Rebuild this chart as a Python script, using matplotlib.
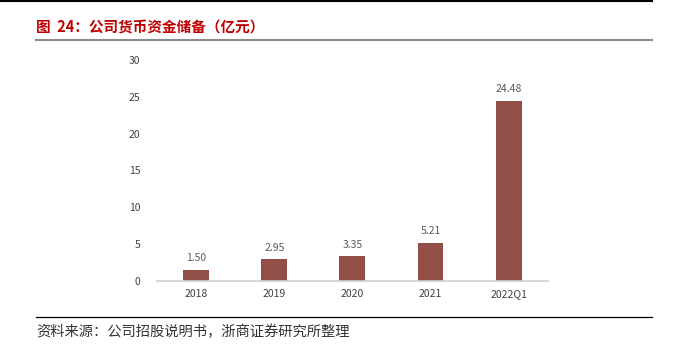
import matplotlib.pyplot as plt
from matplotlib.lines import Line2D

plt.rcParams['font.family'] = ['Noto Sans CJK SC', 'DejaVu Sans']

# data
categories = ['2018', '2019', '2020', '2021', '2022Q1']
values = [1.50, 2.95, 3.35, 5.21, 24.48]
labels = ['1.50', '2.95', '3.35', '5.21', '24.48']

fig = plt.figure(figsize=(6.77, 3.53), dpi=100)

# header / footer rules
fig.add_artist(Line2D([0, 0.963], [0.997, 0.997], color='black', lw=1.5))
fig.add_artist(Line2D([0.053, 0.963], [0.886, 0.886], color='#8c8c8c', lw=1.5))
fig.add_artist(Line2D([0.053, 0.963], [0.102, 0.102], color='black', lw=0.9))

fig.text(0.053, 0.922, '图  24：公司货币资金储备（亿元）', color='#c00000',
         fontsize=10.5, fontweight='bold', va='center', ha='left')
fig.text(0.053, 0.060, '资料来源：公司招股说明书，浙商证券研究所整理', color='#333333',
         fontsize=10.3, va='center', ha='left')

ax = fig.add_axes([0.232, 0.204, 0.577, 0.626])
x = range(len(categories))
bars = ax.bar(x, values, width=0.33, color='#914F47')
for xi, v, t in zip(x, values, labels):
    ax.text(xi, v + 0.9, t, ha='center', va='bottom', fontsize=7.5, color='#595959')

ax.set_xlim(-0.5, len(categories) - 0.5)
ax.set_ylim(0, 30)
ax.set_yticks([0, 5, 10, 15, 20, 25, 30])
ax.set_xticks(list(x))
ax.set_xticklabels(categories)
ax.tick_params(axis='both', length=0, labelsize=7.5, labelcolor='#404040')
ax.tick_params(axis='y', pad=12)
ax.tick_params(axis='x', pad=6)
for s in ['top', 'right', 'left']:
    ax.spines[s].set_visible(False)
ax.spines['bottom'].set_color('#d0d0d0')
ax.spines['bottom'].set_linewidth(1.2)

fig.savefig('out.png', dpi=100)
